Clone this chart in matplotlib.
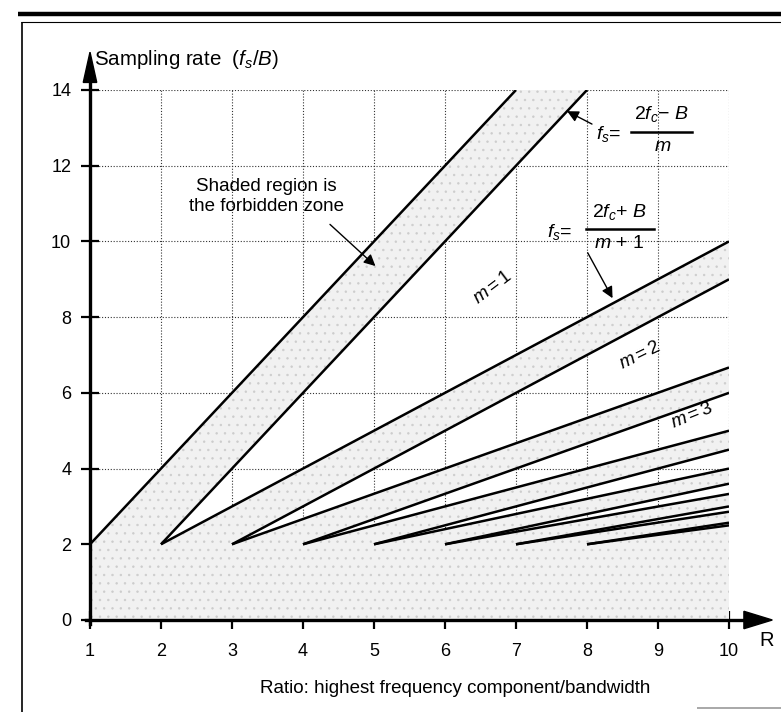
import matplotlib
matplotlib.use('Agg')
import matplotlib.pyplot as plt
from matplotlib.path import Path
from matplotlib.patches import PathPatch, Polygon
from matplotlib.lines import Line2D

plt.rcParams['font.family'] = ['Liberation Sans', 'DejaVu Sans']
plt.rcParams['mathtext.fontset'] = 'custom'
plt.rcParams['mathtext.rm'] = 'Liberation Sans'
plt.rcParams['mathtext.it'] = 'Liberation Sans:italic'
plt.rcParams['hatch.linewidth'] = 0.5

# ---------------- data ----------------
x_ticks = [1, 2, 3, 4, 5, 6, 7, 8, 9, 10]
y_ticks = [0, 2, 4, 6, 8, 10, 12, 14]

# boundary lines (start R, start fs/B) -> (end R, end fs/B)
line_r0 = [1, 2, 2, 3, 3, 4, 4, 5, 5, 6, 6, 7, 7, 8, 8]
line_f0 = [2, 2, 2, 2, 2, 2, 2, 2, 2, 2, 2, 2, 2, 2, 2]
line_r1 = [7, 8, 10, 10, 10, 10, 10, 10, 10, 10, 10, 10, 10, 10, 10]
line_f1 = [14, 14, 10, 9, 6.67, 6, 5, 4.5, 4, 3.6, 3.33, 3, 2.86, 2.57, 2.5]

# allowed (white) wedges: pairs of line indices (upper, lower)
wedge_pairs = [(1, 2), (3, 4), (5, 6), (7, 8), (9, 10), (11, 12), (13, 14)]

zone_labels = ['$m = 1$', '$m = 2$', '$m = 3$']

# ---------------- figure ----------------
W, H = 781, 712
fig = plt.figure(figsize=(W / 100, H / 100), dpi=100)
ax = fig.add_axes([90 / W, 92 / H, 639 / W, 530 / H])
xmin, xmax, ymin, ymax = 1, 10, 0, 14
ax.set_xlim(xmin, xmax)
ax.set_ylim(ymin, ymax)
for s in ax.spines.values():
    s.set_visible(False)

ax.set_xticks(x_ticks)
ax.set_yticks(y_ticks)
ax.tick_params(axis='both', direction='inout', length=13, width=1.6,
               labelsize=13, colors='black')
ax.tick_params(axis='x', pad=10)
ax.tick_params(axis='y', pad=7)

ax.grid(True, linestyle=(0, (1, 1.6)), linewidth=0.8, color='#333333')
ax.set_axisbelow(True)

# ---------------- shaded forbidden zone ----------------
verts = [(xmin, ymin), (xmax, ymin), (xmax, ymax),
         (line_r1[0], line_f1[0]), (line_r0[0], line_f0[0]), (xmin, ymin)]
codes = [Path.MOVETO] + [Path.LINETO] * 4 + [Path.CLOSEPOLY]
for iu, il in wedge_pairs:
    pts = [(line_r0[iu], line_f0[iu]), (line_r1[iu], line_f1[iu])]
    if line_r1[iu] < xmax:
        pts.append((xmax, ymax))
    pts.append((line_r1[il], line_f1[il]))
    pts.append(pts[0])
    verts += pts
    codes += [Path.MOVETO] + [Path.LINETO] * (len(pts) - 2) + [Path.CLOSEPOLY]
shade = PathPatch(Path(verts, codes), facecolor='#f1f1f1', edgecolor='#cccccc',
                  hatch='..', linewidth=0, zorder=1)
ax.add_patch(shade)

# ---------------- boundary lines ----------------
for r0, f0, r1, f1 in zip(line_r0, line_f0, line_r1, line_f1):
    ax.plot([r0, r1], [f0, f1], color='black', lw=1.8,
            solid_capstyle='butt', zorder=4)

# ---------------- axes with arrows ----------------
ytip, ybase = 15.0, 14.2
xtip, xbase = 10.61, 10.21
ax.plot([xmin, xmin], [-0.1, ybase], color='black', lw=2.4, clip_on=False, zorder=5)
ax.plot([xmin - 0.06, xbase], [ymin, ymin], color='black', lw=2.4, clip_on=False, zorder=5)
ax.add_patch(Polygon([(xmin, ytip), (xmin - 0.095, ybase), (xmin + 0.095, ybase)],
                     closed=True, color='black', clip_on=False, zorder=5))
ax.add_patch(Polygon([(xtip, ymin), (xbase, ymin + 0.23), (xbase, ymin - 0.23)],
                     closed=True, color='black', clip_on=False, zorder=5))

ax.text(1.06, 14.8, r'Sampling rate  ($f_s$/$B$)', fontsize=14.8,
        ha='left', va='center', clip_on=False)
ax.text(10.53, -0.55, 'R', fontsize=14.5, ha='center', va='center', clip_on=False)
ax.text(6.15, -1.8, 'Ratio: highest frequency component/bandwidth', fontsize=13.5,
        ha='center', va='center', clip_on=False)

# ---------------- annotations ----------------
ax.text(3.49, 11.18, 'Shaded region is\nthe forbidden zone', fontsize=13.5,
        ha='center', va='center', linespacing=1.2)
ax.annotate('', xy=(5.02, 9.35), xytext=(4.38, 10.45),
            arrowprops=dict(arrowstyle='-|>', color='black', lw=1.0,
                            mutation_scale=17, shrinkA=0, shrinkB=0), zorder=6)

# f_s = (2f_c - B)/m
ax.text(8.30, 12.83, '$f_s$=', fontsize=14, ha='center', va='center')
ax.text(9.05, 13.36, '$2f_c$\u2212 $B$', fontsize=14, ha='center', va='center')
ax.plot([8.62, 9.48], [12.9, 12.9], color='black', lw=1.8, zorder=6)
ax.text(9.06, 12.5, '$m$', fontsize=14, ha='center', va='center')
ax.annotate('', xy=(7.72, 13.44), xytext=(8.07, 13.1),
            arrowprops=dict(arrowstyle='-|>', color='black', lw=1.0,
                            mutation_scale=17, shrinkA=0, shrinkB=0), zorder=6)

# f_s = (2f_c + B)/(m+1)
ax.text(7.62, 10.24, '$f_s$=', fontsize=14, ha='center', va='center')
ax.text(8.45, 10.78, '$2f_c$+ $B$', fontsize=14, ha='center', va='center')
ax.plot([7.98, 8.94], [10.32, 10.32], color='black', lw=1.8, zorder=6)
ax.text(8.45, 9.95, '$m$ + 1', fontsize=14, ha='center', va='center')
ax.annotate('', xy=(8.36, 8.5), xytext=(8.01, 9.7),
            arrowprops=dict(arrowstyle='-|>', color='black', lw=1.0,
                            mutation_scale=17, shrinkA=0, shrinkB=0), zorder=6)

# zone labels
ax.text(6.68, 8.78, zone_labels[0], fontsize=13.5, rotation=37,
        ha='center', va='center', zorder=6)
ax.text(8.75, 7.0, zone_labels[1], fontsize=13.5, rotation=26,
        ha='center', va='center', zorder=6)
ax.text(9.48, 5.4, zone_labels[2], fontsize=13.5, rotation=22,
        ha='center', va='center', zorder=6)

# ---------------- page frame ----------------
def fline(x0, y0, x1, y1, lw, color='black'):
    fig.add_artist(Line2D([x0 / W, x1 / W], [1 - y0 / H, 1 - y1 / H],
                          transform=fig.transFigure, lw=lw, color=color,
                          solid_capstyle='butt'))

fline(18, 14, 781, 14, 3.2)
fline(21, 22, 781, 22, 0.8)
fline(22, 22, 22, 712, 1.2)
fline(697, 708, 781, 708, 1.2, color='#9a9a9a')

fig.savefig('out.png', dpi=100)
